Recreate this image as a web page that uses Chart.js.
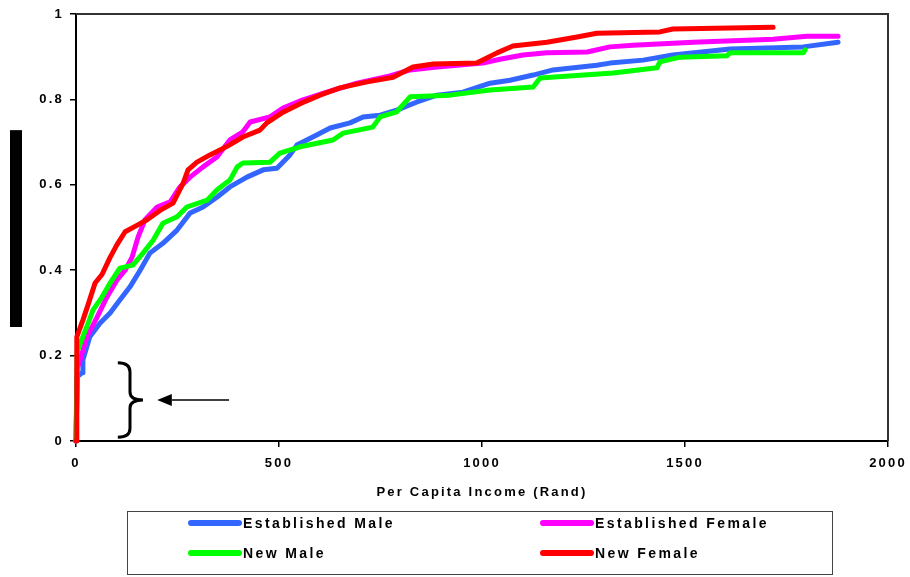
<!DOCTYPE html>
<html>
<head>
<meta charset="utf-8">
<script src="https://cdn.jsdelivr.net/npm/chart.js@4.4.1/dist/chart.umd.min.js"></script>
<style>
  body { margin: 0; background: #fff; }
  #wrap { position: relative; width: 910px; height: 577px; }
  #legend {
    position: absolute; left: 127px; top: 511px; width: 704px; height: 62px;
    border: 1px solid #444;
    font: bold 14px "Liberation Sans", Arial, sans-serif; letter-spacing: 2.4px; color: #000;
  }
  .item { position: absolute; height: 16px; line-height: 16px; }
  .item i { position: absolute; left: 0; top: 5px; width: 54px; height: 6px; border-radius: 3px; }
  .item span { position: absolute; left: 55px; top: 0; white-space: nowrap; }
</style>
</head>
<body>
<div id="wrap">
  <canvas id="chart"></canvas>
  <div id="legend"></div>
</div>
<script>
const xTicks = [0, 500, 1000, 1500, 2000];
const yTicks = [0, 0.2, 0.4, 0.6, 0.8, 1];

const estMaleIncome = [0, 3, 15, 17, 34, 59, 84, 108, 133, 158, 182, 214, 249, 281, 313, 347, 379, 421, 461, 495, 527, 544, 594, 626, 675, 707, 749, 790, 840, 889, 953, 1020, 1069, 1126, 1175, 1283, 1315, 1397, 1470, 1611, 1791, 1877];
const estMaleShare = [0, 0.15, 0.16, 0.19, 0.244, 0.276, 0.30, 0.33, 0.361, 0.40, 0.44, 0.463, 0.494, 0.534, 0.548, 0.571, 0.595, 0.618, 0.635, 0.639, 0.67, 0.693, 0.717, 0.733, 0.745, 0.759, 0.763, 0.775, 0.794, 0.81, 0.817, 0.838, 0.845, 0.857, 0.869, 0.88, 0.885, 0.892, 0.904, 0.918, 0.923, 0.934];

const estFemaleIncome = [0, 3, 10, 27, 52, 76, 101, 121, 138, 153, 170, 200, 232, 256, 281, 313, 347, 379, 411, 429, 478, 510, 559, 618, 692, 773, 823, 889, 1002, 1044, 1101, 1160, 1259, 1315, 1372, 1520, 1717, 1800, 1877];
const estFemaleShare = [0, 0.17, 0.19, 0.244, 0.29, 0.337, 0.377, 0.40, 0.43, 0.478, 0.518, 0.548, 0.56, 0.595, 0.618, 0.642, 0.665, 0.705, 0.724, 0.747, 0.759, 0.78, 0.799, 0.817, 0.838, 0.855, 0.869, 0.876, 0.885, 0.894, 0.904, 0.909, 0.911, 0.923, 0.927, 0.934, 0.941, 0.948, 0.948];

const newMaleIncome = [0, 3, 30, 42, 64, 84, 108, 140, 165, 190, 214, 249, 273, 323, 347, 379, 397, 411, 478, 502, 552, 633, 658, 731, 749, 790, 823, 921, 1020, 1126, 1143, 1323, 1431, 1438, 1488, 1603, 1611, 1791, 1796];
const newMaleShare = [0, 0.21, 0.276, 0.307, 0.337, 0.37, 0.405, 0.412, 0.44, 0.47, 0.51, 0.525, 0.548, 0.564, 0.588, 0.611, 0.642, 0.651, 0.653, 0.674, 0.689, 0.705, 0.721, 0.735, 0.759, 0.771, 0.806, 0.81, 0.822, 0.829, 0.85, 0.862, 0.874, 0.888, 0.899, 0.902, 0.909, 0.909, 0.916];

const newFemaleIncome = [0, 2, 17, 30, 47, 64, 84, 101, 121, 150, 175, 207, 239, 264, 276, 298, 330, 372, 411, 453, 470, 510, 552, 601, 650, 717, 781, 830, 880, 987, 1037, 1076, 1160, 1234, 1283, 1438, 1470, 1717];
const newFemaleShare = [0, 0.244, 0.283, 0.32, 0.37, 0.39, 0.43, 0.46, 0.49, 0.505, 0.518, 0.54, 0.557, 0.604, 0.635, 0.653, 0.67, 0.69, 0.712, 0.728, 0.745, 0.77, 0.79, 0.81, 0.827, 0.841, 0.852, 0.876, 0.883, 0.885, 0.909, 0.925, 0.934, 0.946, 0.955, 0.958, 0.965, 0.969];

const FONT = '"Liberation Sans", Arial, sans-serif';
const SPACING = '2.2px';

const pts = (xs, ys) => xs.map((x, i) => ({ x, y: ys[i] }));

const series = (label, xs, ys, color, order) => ({
  label,
  data: pts(xs, ys),
  borderColor: color,
  backgroundColor: color,
  borderWidth: 5,
  borderCapStyle: "round",
  borderJoinStyle: "round",
  pointRadius: 0,
  showLine: true,
  tension: 0,
  clip: 4,
  order
});

// frame, spaced-out text and the little annotations
const extras = {
  id: "extras",
  beforeLayout(chart) { chart.ctx.letterSpacing = SPACING; },
  beforeDraw(chart) { chart.ctx.letterSpacing = SPACING; },
  afterDraw(chart) {
    const { ctx, chartArea: a, scales: { x, y } } = chart;
    ctx.save();
    ctx.strokeStyle = "#333";
    ctx.lineWidth = 2;
    ctx.beginPath();
    ctx.moveTo(a.left, a.top);
    ctx.lineTo(a.right, a.top);
    ctx.lineTo(a.right, a.bottom);
    ctx.stroke();

    // black bar left of the axis
    const barTop = y.getPixelForValue(0.728);
    const barBot = y.getPixelForValue(0.267);
    ctx.fillStyle = "#000";
    ctx.fillRect(a.left - 66, barTop, 12, barBot - barTop);

    // brace
    const xl = x.getPixelForValue(103), xm = x.getPixelForValue(133), xr = x.getPixelForValue(165);
    const yt = y.getPixelForValue(0.183), ym = y.getPixelForValue(0.096), yb = y.getPixelForValue(0.009);
    ctx.lineWidth = 3;
    ctx.strokeStyle = "#000";
    ctx.beginPath();
    ctx.moveTo(xl, yt);
    ctx.quadraticCurveTo(xm, yt, xm, yt + 9);
    ctx.lineTo(xm, ym - 8);
    ctx.quadraticCurveTo(xm, ym, xr, ym);
    ctx.quadraticCurveTo(xm, ym, xm, ym + 8);
    ctx.lineTo(xm, yb - 9);
    ctx.quadraticCurveTo(xm, yb, xl, yb);
    ctx.stroke();

    // arrow
    const tail = x.getPixelForValue(377), tip = x.getPixelForValue(200), base = x.getPixelForValue(236);
    ctx.lineWidth = 1.5;
    ctx.beginPath();
    ctx.moveTo(tail, ym);
    ctx.lineTo(base, ym);
    ctx.stroke();
    ctx.beginPath();
    ctx.moveTo(tip, ym);
    ctx.lineTo(base, ym - 6);
    ctx.lineTo(base, ym + 6);
    ctx.closePath();
    ctx.fill();
    ctx.restore();
  }
};

const tickFont = { family: FONT, size: 13, weight: "bold" };
const plain = (v) => String(v);

const chart = new Chart(document.getElementById("chart"), {
  type: "scatter",
  data: {
    datasets: [
      series("Established Male", estMaleIncome, estMaleShare, "#3366FF", 4),
      series("Established Female", estFemaleIncome, estFemaleShare, "#FF00FF", 3),
      series("New Male", newMaleIncome, newMaleShare, "#00FF00", 2),
      series("New Female", newFemaleIncome, newFemaleShare, "#FF0000", 1)
    ]
  },
  options: {
    responsive: true,
    maintainAspectRatio: false,
    animation: false,
    events: [],
    layout: { padding: { left: 0, top: 14, right: 22, bottom: 77 } },
    plugins: { legend: { display: false }, tooltip: { enabled: false } },
    scales: {
      x: {
        type: "linear",
        min: 0,
        max: 2000,
        afterBuildTicks: (s) => { s.ticks = xTicks.map((v) => ({ value: v })); },
        afterFit: (s) => { s.height = 59; s.paddingLeft = 0; s.paddingRight = 0; },
        grid: { drawOnChartArea: false, tickLength: 6, color: "#000", lineWidth: 1.5 },
        border: { color: "#000", width: 2 },
        ticks: { color: "#000", font: tickFont, padding: 9, maxRotation: 0, callback: plain },
        title: {
          display: true,
          text: "Per Capita Income (Rand)",
          color: "#000",
          font: tickFont,
          padding: 0
        }
      },
      y: {
        min: 0,
        max: 1,
        afterBuildTicks: (s) => { s.ticks = yTicks.map((v) => ({ value: v })); },
        afterFit: (s) => { s.width = 76; s.paddingTop = 0; s.paddingBottom = 0; },
        grid: { drawOnChartArea: false, tickLength: 6, color: "#000", lineWidth: 1.5 },
        border: { color: "#000", width: 2 },
        ticks: { color: "#000", font: tickFont, padding: 6, callback: plain }
      }
    }
  },
  plugins: [extras]
});

// legend box, two columns like the original
const legendEl = document.getElementById("legend");
const slots = [[60, 3], [412, 3], [60, 33], [412, 33]];
chart.data.datasets.forEach((ds, i) => {
  const item = document.createElement("div");
  item.className = "item";
  item.style.left = slots[i][0] + "px";
  item.style.top = slots[i][1] + "px";
  item.innerHTML = '<i style="background:' + ds.borderColor + '"></i><span>' + ds.label + "</span>";
  legendEl.appendChild(item);
});
</script>
</body>
</html>
